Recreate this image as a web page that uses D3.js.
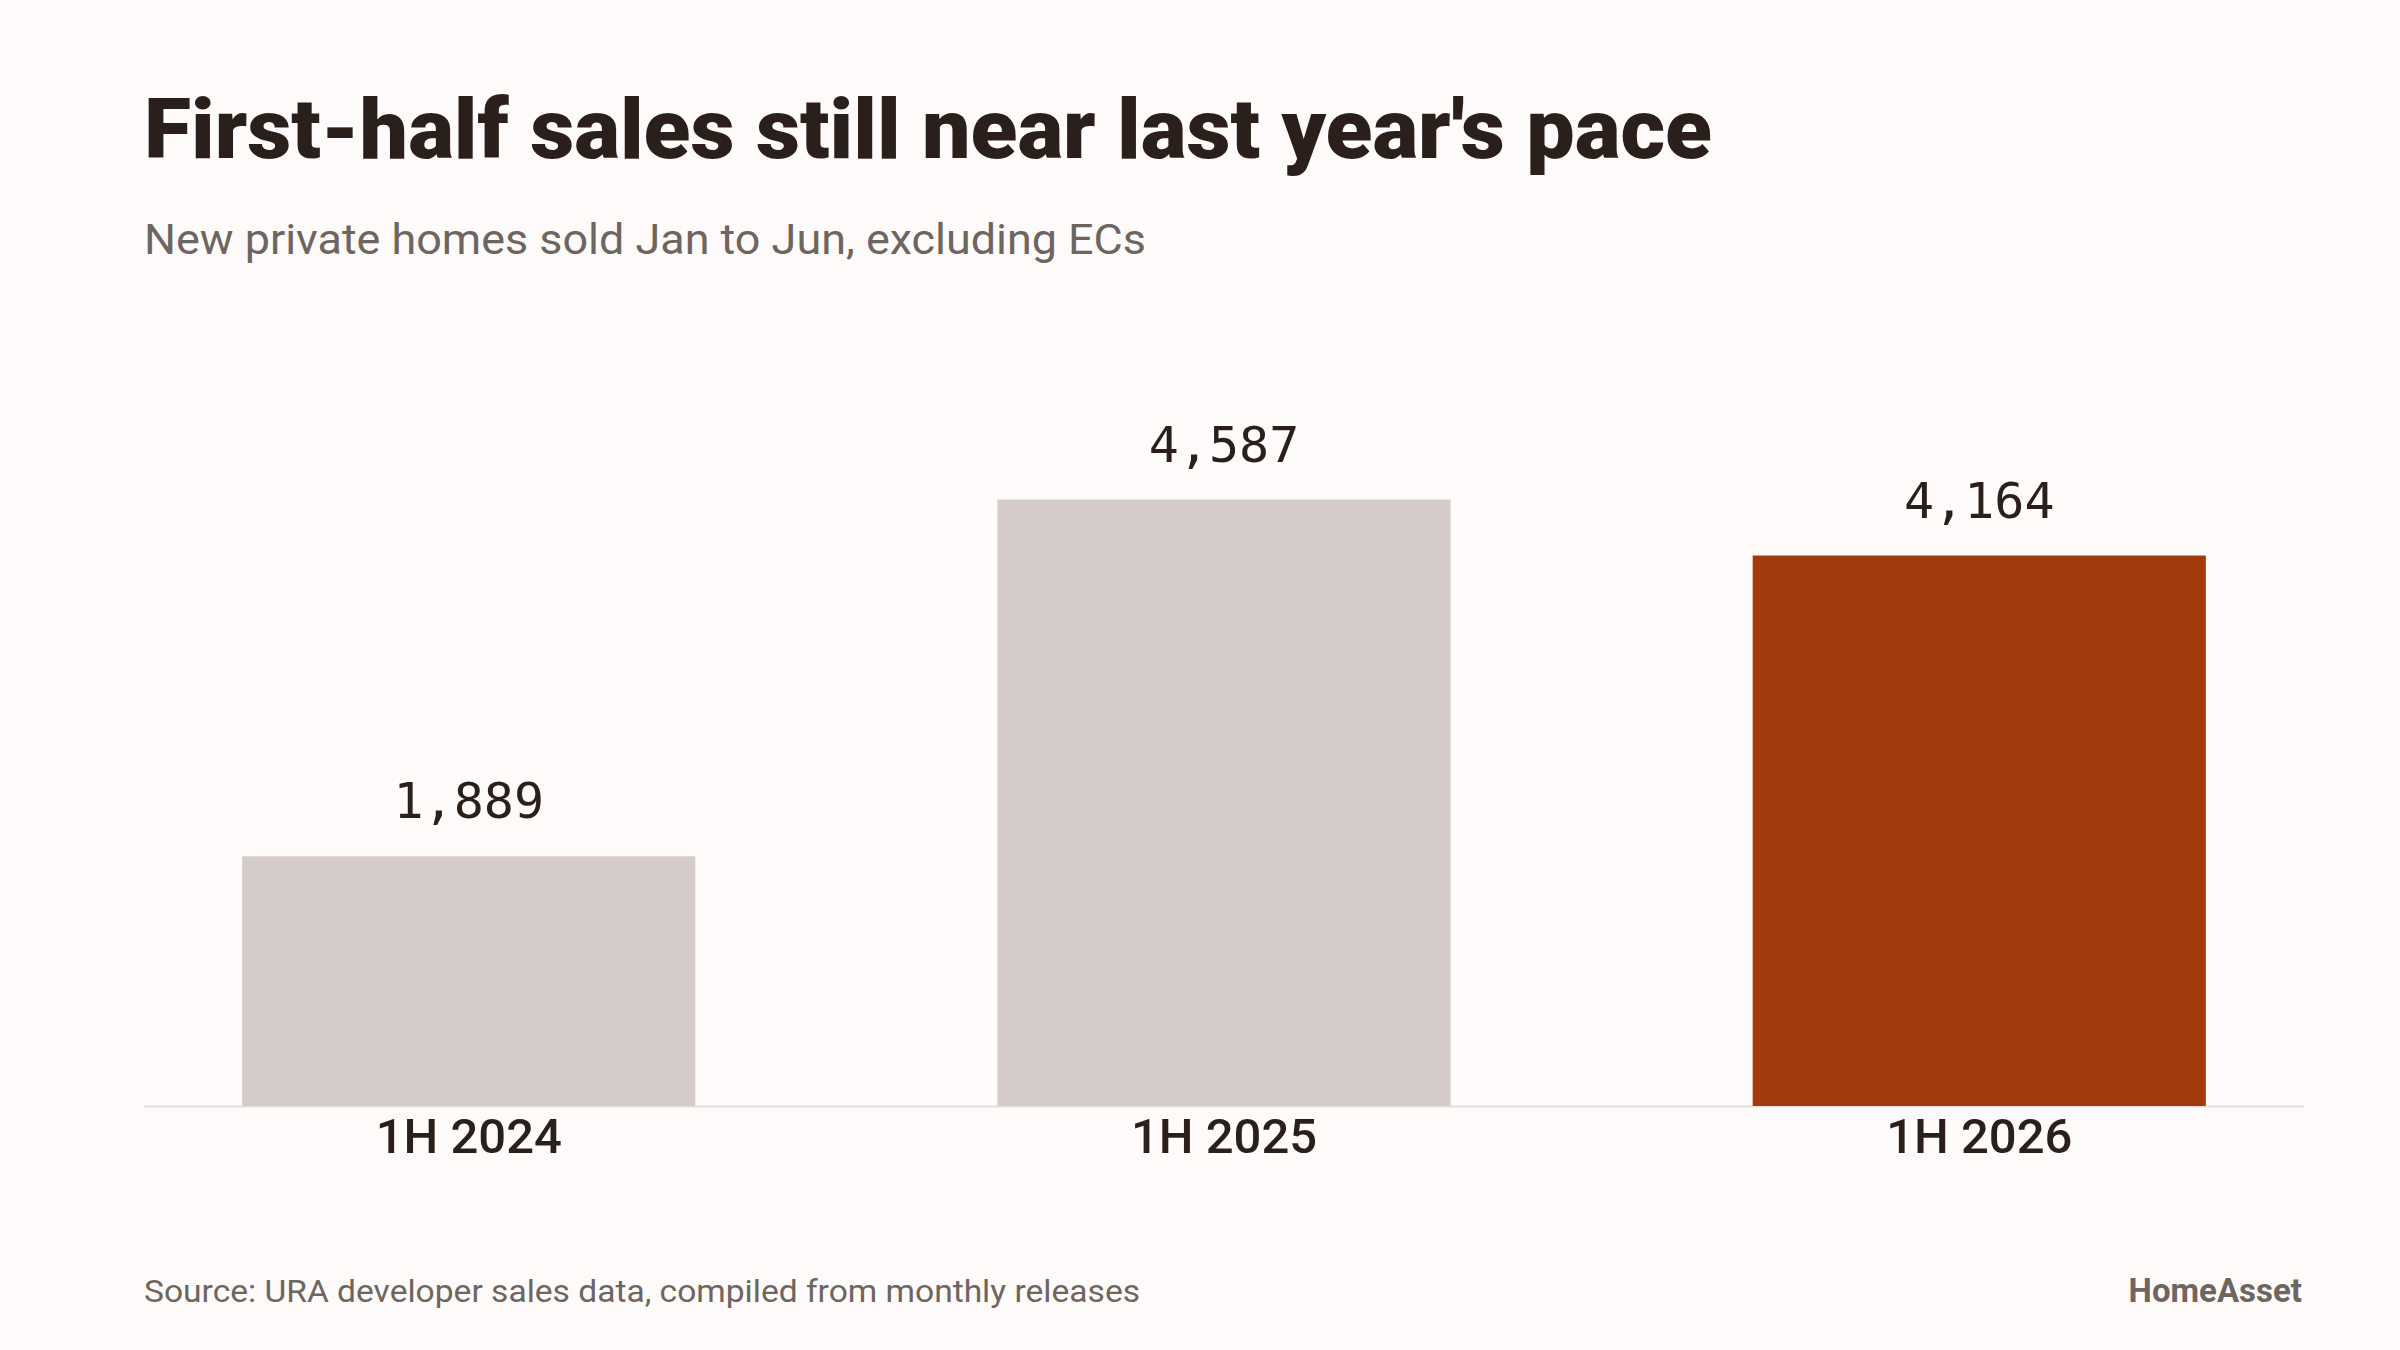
<!DOCTYPE html>
<meta charset="utf-8">
<script src="https://d3js.org/d3.v7.min.js"></script>
<style>
    body { margin: 0; background: #fefbfa; }
    .title { font-family: Roboto, sans-serif; font-weight: 900; fill: #2b1f1c; }
    .subtitle { font-family: Roboto, sans-serif; fill: #6e6560; }
    .value { font-family: "DejaVu Sans Mono", monospace; fill: #2b1f1c; }
    .cat { font-family: Roboto, sans-serif; font-weight: 500; fill: #2b1f1c; }
    .foot { font-family: Roboto, sans-serif; fill: #6e6560; }
</style>
<div id="chart"></div>
<script>
    // chart values
    const periods = ["1H 2024", "1H 2025", "1H 2026"];
    const unitsSold = [1889, 4587, 4164];
    const highlight = ["1H 2026"];

    const width = 2400, height = 1350;
    const margin = {top: 445, right: 96, bottom: 244, left: 144};

    const svg = d3.select("#chart")
        .append("svg")
        .attr("width", width)
        .attr("height", height);

    svg.append("rect")
        .attr("width", width)
        .attr("height", height)
        .attr("fill", "#fefbfa");

    // titles
    svg.append("text")
        .attr("class", "title")
        .attr("x", 144)
        .attr("y", 158)
        .attr("font-size", 84)
        .attr("textLength", 1568)
        .attr("lengthAdjust", "spacingAndGlyphs")
        .text("First-half sales still near last year's pace");

    svg.append("text")
        .attr("class", "subtitle")
        .attr("x", 144)
        .attr("y", 254)
        .attr("font-size", 42)
        .attr("textLength", 1002)
        .attr("lengthAdjust", "spacingAndGlyphs")
        .text("New private homes sold Jan to Jun, excluding ECs");

    let x = d3.scaleBand()
        .domain(periods)
        .range([margin.left, width - margin.right])
        .paddingInner(0.4)
        .paddingOuter(0.13);

    let y = d3.scaleLinear()
        .domain([0, 5000])
        .range([height - margin.bottom, margin.top]);

    let data = periods.map((p, i) => ({name: p, value: unitsSold[i]}));

    // baseline
    svg.append("line")
        .attr("x1", margin.left)
        .attr("x2", width - margin.right)
        .attr("y1", y(0) + 0.5)
        .attr("y2", y(0) + 0.5)
        .attr("stroke", "#e6e0dd")
        .attr("stroke-width", 2);

    svg.selectAll(".bar")
        .data(data)
        .enter()
        .append("rect")
        .attr("class", "bar")
        .attr("x", d => x(d.name))
        .attr("y", d => y(d.value))
        .attr("width", x.bandwidth())
        .attr("height", d => y(0) - y(d.value))
        .attr("fill", d => highlight.includes(d.name) ? "#a33a0c" : "#d5ccc9");

    svg.selectAll(".value")
        .data(data)
        .enter()
        .append("text")
        .attr("class", "value")
        .attr("x", d => x(d.name) + x.bandwidth() / 2)
        .attr("y", d => y(d.value) - 38)
        .attr("text-anchor", "middle")
        .attr("font-size", 50)
        .text(d => d3.format(",")(d.value));

    // category axis, no ticks or domain line
    let axis = svg.append("g")
        .attr("transform", "translate(0," + y(0) + ")")
        .call(d3.axisBottom(x).tickSize(0).tickPadding(0));
    axis.select(".domain").remove();
    axis.selectAll("text")
        .attr("class", "cat")
        .attr("y", 47)
        .attr("dy", null)
        .attr("font-size", 49)
        .attr("fill", null);

    // footer
    svg.append("text")
        .attr("class", "foot")
        .attr("x", 144)
        .attr("y", 1302)
        .attr("font-size", 31)
        .attr("textLength", 996)
        .attr("lengthAdjust", "spacingAndGlyphs")
        .text("Source: URA developer sales data, compiled from monthly releases");

    svg.append("text")
        .attr("class", "foot")
        .attr("x", 2302)
        .attr("y", 1302)
        .attr("text-anchor", "end")
        .attr("font-size", 33)
        .attr("font-weight", 700)
        .text("HomeAsset");
</script>
